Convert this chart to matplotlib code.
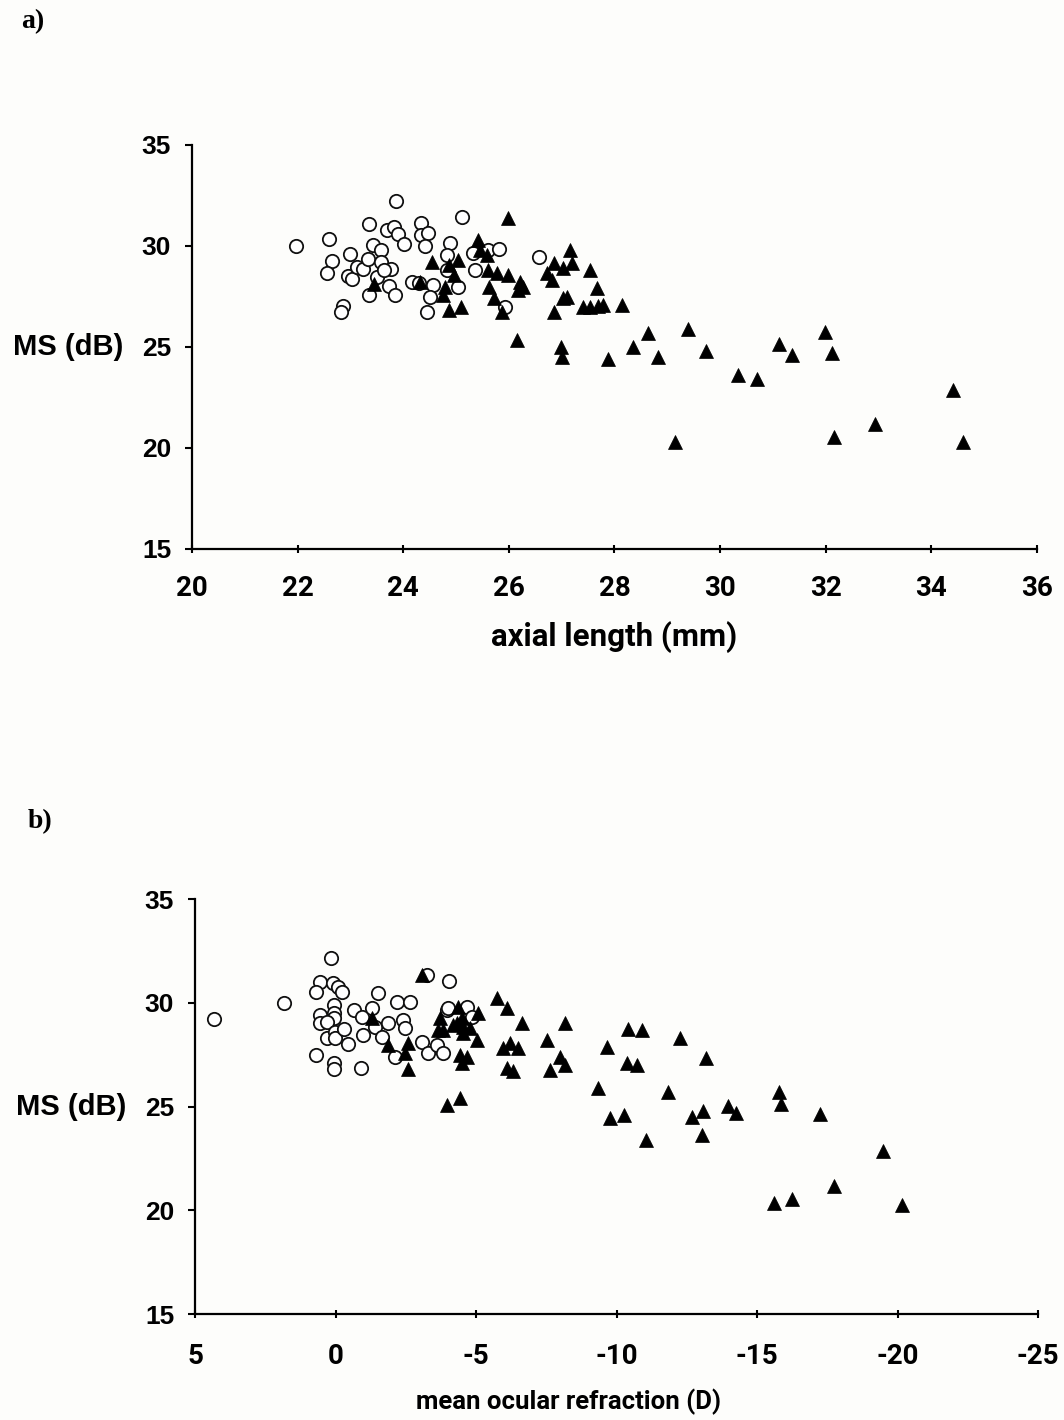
import matplotlib
matplotlib.use('Agg')
from matplotlib import pyplot as plt

# panel a: axial length (mm) vs MS (dB)
emm_axial = [21.97, 22.59, 22.65, 22.56, 22.86, 22.82, 22.99, 22.95, 23.03, 23.13,
             23.24, 23.33, 23.35, 23.43, 23.58, 23.58, 23.50, 23.35, 23.73, 23.84,
             23.77, 23.64, 23.86, 23.69, 23.83, 23.90, 24.02, 24.17, 24.34, 24.34,
             24.47, 24.41, 24.30, 24.56, 24.51, 24.45, 25.11, 24.89, 24.83, 24.83,
             25.04, 25.36, 25.32, 25.61, 25.81, 25.93, 26.57]
emm_ms_a = [30.00, 30.35, 29.26, 28.66, 27.03, 26.73, 29.60, 28.51, 28.37, 28.96,
            28.86, 29.36, 31.09, 30.05, 29.80, 29.21, 28.47, 27.57, 28.02, 27.57,
            28.86, 28.81, 32.23, 30.79, 30.94, 30.59, 30.10, 28.22, 31.14, 30.54,
            30.64, 30.00, 28.17, 28.07, 27.48, 26.73, 31.44, 30.15, 29.55, 28.81,
            27.97, 28.81, 29.65, 29.80, 29.85, 26.98, 29.46]

myo_axial = [25.98, 25.42, 25.45, 25.59, 24.55, 25.04, 24.87, 24.96, 24.32, 24.79,
             24.75, 24.87, 25.09, 25.61, 25.78, 25.98, 25.63, 25.72, 25.87, 26.21,
             26.17, 26.27, 26.16, 27.16, 26.86, 27.03, 27.20, 26.72, 26.82, 27.54,
             27.67, 27.03, 27.10, 26.86, 27.41, 27.54, 27.69, 27.78, 28.14, 26.99,
             27.01, 27.88, 28.35, 28.64, 28.83, 29.39, 29.73, 29.15, 30.34, 30.70,
             31.12, 31.36, 31.99, 32.12, 32.16, 32.94, 34.41, 34.60, 23.45]
myo_ms_a = [31.39, 30.30, 29.80, 29.55, 29.21, 29.31, 29.06, 28.56, 28.22, 27.97,
            27.57, 26.83, 26.98, 28.81, 28.66, 28.56, 27.97, 27.43, 26.73, 28.22,
            27.82, 27.97, 25.35, 29.80, 29.16, 28.91, 29.16, 28.66, 28.32, 28.81,
            27.92, 27.43, 27.48, 26.73, 26.98, 26.98, 27.03, 27.08, 27.08, 25.00,
            24.50, 24.41, 25.00, 25.69, 24.50, 25.89, 24.80, 20.30, 23.61, 23.42,
            25.15, 24.60, 25.74, 24.70, 20.54, 21.19, 22.87, 20.30, 28.12]

# panel b: mean ocular refraction (D) vs MS (dB)
emm_refr = [4.32, 1.83, 0.16, 0.55, 0.69, 0.09, -0.09, -0.23, 0.05, 0.05,
            0.05, 0.55, 0.55, 0.30, 0.30, 0.02, 0.02, -0.30, -0.44, 0.69,
            0.05, 0.05, -0.91, -0.66, -0.94, -1.30, -1.51, -0.98, -1.41, -1.65,
            -1.87, -2.19, -2.65, -2.40, -2.47, -2.12, -3.26, -4.04, -3.97, -3.08,
            -3.29, -3.61, -3.83, -4.00, -4.68, -4.86]
emm_ms_b = [29.22, 29.99, 32.16, 31.00, 30.52, 30.95, 30.76, 30.52, 29.89, 29.51,
            29.27, 29.41, 29.02, 29.07, 28.30, 28.59, 28.30, 28.73, 28.01, 27.48,
            27.10, 26.81, 26.86, 29.65, 29.31, 29.75, 30.47, 28.45, 28.83, 28.35,
            29.02, 30.04, 30.04, 29.17, 28.78, 27.39, 31.34, 31.05, 29.65, 28.11,
            27.58, 27.96, 27.58, 29.75, 29.80, 29.31]

myo_refr = [-3.08, -1.30, -1.87, -2.58, -2.47, -2.58, -3.72, -3.65, -3.83, -4.36,
            -4.32, -4.54, -4.43, -4.50, -4.18, -4.50, -4.54, -4.79, -5.07, -5.04,
            -4.68, -5.75, -6.10, -6.64, -8.17, -7.53, -5.96, -6.21, -6.49, -6.10,
            -6.32, -7.99, -8.17, -7.63, -9.34, -9.66, -10.41, -10.91, -10.37, -10.73,
            -12.26, -11.83, -4.43, -3.97, -13.19, -9.77, -10.27, -11.05, -12.69, -13.08,
            -13.97, -14.25, -13.04, -15.78, -15.85, -17.24, -19.48, -17.74, -15.60, -16.25,
            -20.16]
myo_ms_b = [31.34, 29.27, 27.96, 28.06, 27.58, 26.81, 29.27, 28.69, 28.69, 29.80,
            29.02, 28.83, 27.48, 27.10, 28.93, 29.26, 28.54, 28.78, 29.51, 28.20,
            27.39, 30.23, 29.75, 29.02, 29.02, 28.20, 27.82, 28.06, 27.82, 26.86,
            26.71, 27.39, 27.00, 26.76, 25.89, 27.87, 28.73, 28.69, 27.10, 27.00,
            28.30, 25.70, 25.41, 25.07, 27.34, 24.45, 24.59, 23.39, 24.49, 24.78,
            25.02, 24.69, 23.63, 25.70, 25.12, 24.64, 22.86, 21.17, 20.35, 20.54,
            20.25]

yticks = [15, 20, 25, 30, 35]
xticks_a = [20, 22, 24, 26, 28, 30, 32, 34, 36]
xticks_b = [5, 0, -5, -10, -15, -20, -25]

plt.rcParams['axes.unicode_minus'] = False

SANS = ['Liberation Sans', 'DejaVu Sans']
NARROW = ['Roboto', 'Liberation Sans', 'DejaVu Sans']
SERIF = ['Liberation Serif', 'DejaVu Serif']

fig = plt.figure(figsize=(10.64, 14.2), dpi=100)
fig.patch.set_facecolor('#fdfdfb')


def style_axes(ax, xticks, xpad, xsize):
    ax.set_facecolor('none')
    for s in ['top', 'right']:
        ax.spines[s].set_visible(False)
    for s in ['left', 'bottom']:
        ax.spines[s].set_linewidth(1.6)
    ax.set_ylim(15, 35)
    ax.set_yticks(yticks)
    ax.set_xticks(xticks)
    ax.tick_params(axis='y', direction='out', length=5, width=1.5, pad=10)
    ax.tick_params(axis='x', direction='inout', length=6, width=1.5, pad=xpad)
    for lab in ax.get_yticklabels():
        lab.set_fontfamily(SANS)
        lab.set_fontweight('bold')
        lab.set_fontsize(19)
    for lab in ax.get_xticklabels():
        lab.set_fontfamily(NARROW)
        lab.set_fontweight('bold')
        lab.set_fontsize(xsize)


def scatter(ax, ex, ey, mx, my):
    ax.plot(ex, ey, 'o', ms=9.6, mfc='white', mec='#111111', mew=1.3, ls='none', zorder=3)
    ax.plot(mx, my, '^', ms=10.4, mfc='black', mec='black', mew=0.5, ls='none', zorder=4)


ax1 = fig.add_axes([0.1805, 0.6134, 0.794, 0.2845])
scatter(ax1, emm_axial, emm_ms_a, myo_axial, myo_ms_a)
ax1.set_xlim(20, 36)
style_axes(ax1, xticks_a, 16, 20)

ax2 = fig.add_axes([0.1833, 0.0746, 0.7923, 0.2923])
scatter(ax2, emm_refr, emm_ms_b, myo_refr, myo_ms_b)
ax2.set_xlim(5, -25)
style_axes(ax2, xticks_b, 18, 20)

fig.text(33 / 1064, 1 - 22 / 1420, 'a)', family=SERIF, weight='bold', size=20, ha='center', va='center')
fig.text(40 / 1064, 1 - 822 / 1420, 'b)', family=SERIF, weight='bold', size=20, ha='center', va='center')
fig.text(68 / 1064, 1 - 347 / 1420, 'MS (dB)', family=SANS, weight='bold', size=21, ha='center', va='center')
fig.text(71 / 1064, 1 - 1107 / 1420, 'MS (dB)', family=SANS, weight='bold', size=21, ha='center', va='center')
fig.text(614 / 1064, 1 - 637 / 1420, 'axial length (mm)', family=NARROW, weight='bold', size=22.5,
         ha='center', va='center')
fig.text(568 / 1064, 1 - 1402 / 1420, 'mean ocular refraction (D)', family=NARROW, weight='bold', size=18.5,
         ha='center', va='center')

fig.savefig('out.png', dpi=100, facecolor=fig.get_facecolor())
